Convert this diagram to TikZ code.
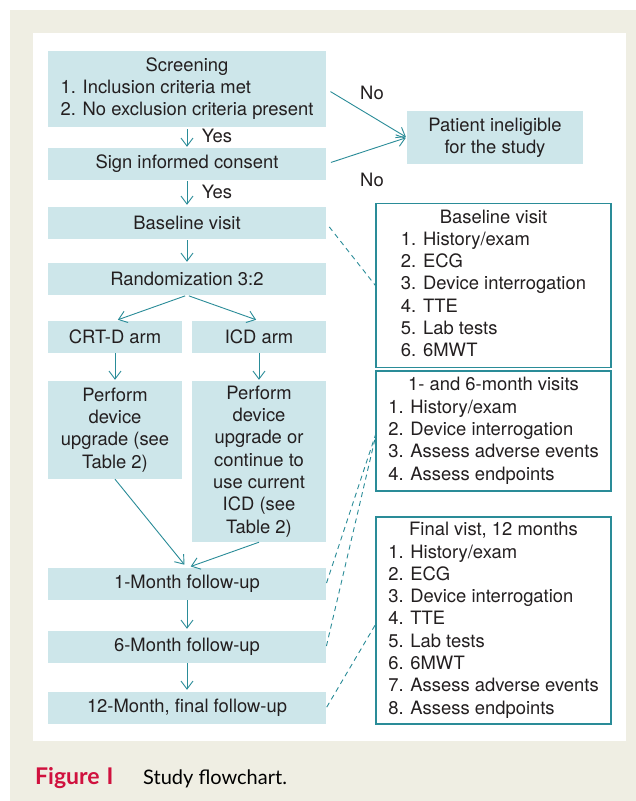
\documentclass[tikz,border=0pt]{standalone}
\usepackage{fontspec}
\setmainfont{TeX Gyre Heros}
\newfontfamily\capfont{Lato}
\usetikzlibrary{positioning, arrows.meta}

\definecolor{tealline}{RGB}{42,140,152}
\definecolor{boxfill}{RGB}{205,230,234}
\definecolor{pagebg}{RGB}{239,238,227}
\definecolor{figred}{RGB}{208,17,62}
\definecolor{textgray}{RGB}{35,31,32}

\tikzset{
  flow/.style={fill=boxfill, text=textgray, inner sep=0pt, align=center, minimum height=32pt},
  widebox/.style={flow, minimum width=278pt},
  armbox/.style={flow, minimum width=134pt},
  visitbox/.style={draw=tealline, line width=1.2pt, fill=white, text=textgray, inner sep=0pt, minimum width=235pt},
  lbl/.style={text=textgray, inner sep=0pt},
  steparrow/.style={->, >={Straight Barb[length=8pt,width=12pt]}, color=tealline, line width=0.9pt},
  dashlink/.style={color=tealline, line width=0.9pt, dash pattern=on 5pt off 4pt},
}

\begin{document}
\begin{tikzpicture}[x=1pt, y=-1pt, font=\fontsize{18.4}{22.3}\selectfont]
            \useasboundingbox (0,0) rectangle (636,801);
            \fill[pagebg] (10,10) rectangle (636,801);
            \fill[white] (33,33) rectangle (626,741);

            % flowchart
            \draw (187,89) node[widebox, minimum height=76pt] (scr) {\begin{tabular}{@{}l@{}}\multicolumn{1}{@{}c@{}}{Screening}\\1. Inclusion criteria met\\2. No exclusion criteria present\end{tabular}};
            \draw (187,164) node[widebox] (cons) {Sign informed consent};
            \draw (495,137.5) node[flow, minimum width=176pt, minimum height=53pt] (inel) {Patient ineligible\\for the study};
            \draw (187,223) node[widebox] (base) {Baseline visit};
            \draw (187,279) node[widebox] (rand) {Randomization 3:2};
            \draw (115,337) node[armbox] (crt) {CRT-D arm};
            \draw (259,337) node[armbox] (icd) {ICD arm};
            \draw (115,430) node[armbox, minimum height=98pt] (upcrt) {Perform\\device\\upgrade (see\\Table 2)};
            \draw (259,461.5) node[armbox, minimum height=161pt] (upicd) {Perform\\device\\upgrade or\\continue to\\use current\\ICD (see\\Table 2)};
            \draw (187,584) node[widebox] (m1) {1-Month follow-up};
            \draw (187,647) node[widebox] (m6) {6-Month follow-up};
            \draw (187,708) node[widebox] (m12) {12-Month, final follow-up};

            % visit lists
            \draw (493.5,285.5) node[visitbox, minimum height=164pt] (rbase) {\begin{tabular}{@{}l@{}}\multicolumn{1}{@{}c@{}}{Baseline visit}\\1. History/exam\\2. ECG\\3. Device interrogation\\4. TTE\\5. Lab tests\\6. 6MWT\end{tabular}};
            \draw (493.5,431) node[visitbox, minimum height=120pt] (rfol) {\begin{tabular}{@{}l@{}}\multicolumn{1}{@{}c@{}}{1- and 6-month visits}\\1. History/exam\\2. Device interrogation\\3. Assess adverse events\\4. Assess endpoints\end{tabular}};
            \draw (493.5,620.5) node[visitbox, minimum height=207pt] (rfin) {\begin{tabular}{@{}l@{}}\multicolumn{1}{@{}c@{}}{Final vist, 12 months}\\1. History/exam\\2. ECG\\3. Device interrogation\\4. TTE\\5. Lab tests\\6. 6MWT\\7. Assess adverse events\\8. Assess endpoints\end{tabular}};

            \draw (372,93) node[lbl] (no1) {No};
            \draw (372,180) node[lbl] (no2) {No};
            \draw (217,136) node[lbl] (yes1) {Yes};
            \draw (217,192) node[lbl] (yes2) {Yes};

            \path[steparrow]
            (scr) edge[shorten <=2pt, shorten >=1pt] (cons)
            (cons) edge[shorten <=1pt, shorten >=2pt] (base)
            (base) edge[shorten <=1pt, shorten >=1pt] (rand)
            (rand.south) edge[shorten <=2pt, shorten >=3pt] (crt.north)
            (rand.south) edge[shorten <=2pt, shorten >=3pt] (icd.north)
            (crt) edge[shorten >=1pt] (upcrt)
            (icd) edge[shorten >=1pt] (upicd)
            (upcrt.south) edge[shorten >=4pt] (m1.north)
            (upicd.south) edge[shorten >=4pt] (m1.north)
            (m1) edge[shorten >=2pt] (m6)
            (m6) edge[shorten >=2pt] (m12)
            (scr.east) edge[shorten <=5pt, shorten >=1pt] (inel.west)
            (cons.east) edge[shorten <=5pt, shorten >=1pt] (inel.west);

            \path[dashlink]
            (base.east) edge[shorten <=5pt] (rbase.west)
            (m1.east) edge[shorten <=1pt] (rfol.182)
            (m6.east) edge[shorten <=1pt] (rfol.183)
            (m12.east) edge[shorten <=1pt] (rfin.182);

            % caption
            \draw (35,784) node[anchor=base west, inner sep=0pt, text=figred, font=\capfont\bfseries\fontsize{23}{27}\selectfont] (fignum) {Figure\hspace{7pt}I};
            \draw (143,784) node[anchor=base west, inner sep=0pt, text=black, font=\capfont\fontsize{20}{24}\selectfont] (figcap) {Study flowchart.};
        \end{tikzpicture}
\end{document}
